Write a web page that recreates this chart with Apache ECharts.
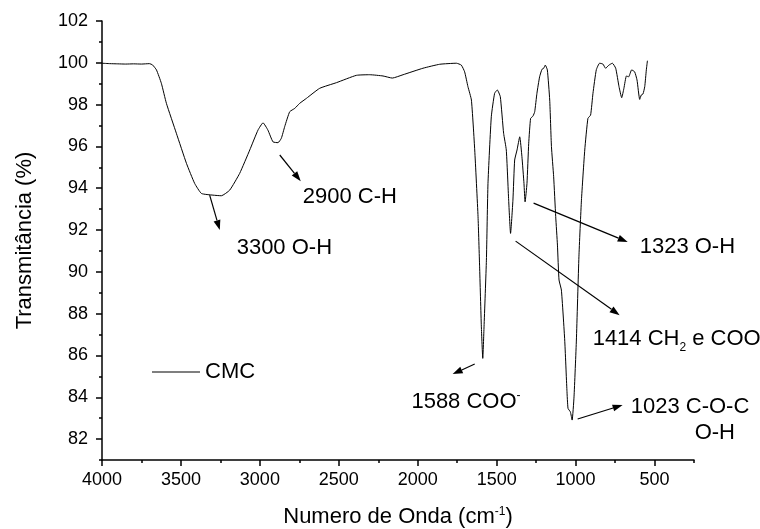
<!DOCTYPE html>
<html><head><meta charset="utf-8">
<script src="https://cdn.jsdelivr.net/npm/echarts@6/dist/echarts.min.js"></script>
<style>html,body{margin:0;padding:0;background:#fff}#c{width:760px;height:529px}</style>
</head><body><div id="c"></div>
<script>
// Wavenumber (cm-1) and transmittance (%)
const wavenumbers = [4000,3950,3900,3850,3800,3750,3700,3680,3655,3624,3592,3529,3465,3413,3370,3297,3244,3191,3128,3064,3012,2980,2949,2917,2885,2864,2843,2811,2779,2748,2705,2621,2515,2389,2304,2220,2161,2093,1967,1861,1755,1724,1703,1682,1660,1639,1618,1608,1597,1588,1580,1565,1555,1534,1513,1496,1477,1456,1439,1424,1412,1397,1386,1371,1354,1340,1327,1320,1308,1297,1285,1270,1259,1245,1228,1213,1202,1192,1179,1164,1153,1139,1126,1115,1105,1090,1069,1055,1048,1033,1022,1010,995,979,963,942,922,905,890,869,848,827,810,789,767,746,725,708,694,678,664,645,626,611,594,584,573,562,552,545];
const transmittance = [99.98,99.96,99.95,99.94,99.95,99.94,99.96,99.90,99.66,99.02,98.06,96.63,95.19,94.23,93.75,93.67,93.64,93.91,94.71,95.83,96.78,97.13,96.78,96.22,96.18,96.39,96.94,97.66,97.82,98.06,98.30,98.78,99.05,99.40,99.43,99.37,99.27,99.43,99.74,99.93,99.98,99.89,99.57,98.86,98.22,95.83,92.64,90.24,87.37,85.86,87.37,90.56,94.23,97.42,98.54,98.70,98.38,96.63,95.83,93.43,91.84,93.43,95.35,95.83,96.46,95.51,94.23,93.35,94.23,96.15,97.34,97.45,97.66,98.54,99.33,99.69,99.74,99.89,99.66,98.22,95.99,94.55,92.64,91.28,89.61,89.13,86.74,84.34,83.47,83.30,82.91,84.02,86.74,90.72,93.43,95.83,97.34,97.50,98.54,99.66,99.98,99.94,99.74,99.89,99.98,99.74,98.86,98.33,98.78,99.37,99.33,99.66,99.57,99.18,98.25,98.46,98.51,98.86,99.66,100.1];

const xTicks = [4000,3500,3000,2500,2000,1500,1000,500];
const xMinorTicks = [3750,3250,2750,2250,1750,1250,750,250];
const yTicks = [82,84,86,88,90,92,94,96,98,100,102];
const yMinorTicks = [81,83,85,87,89,91,93,95,97,99,101];

// Annotation arrows (data coordinates)
const arrowStarts = [[3318,93.67],[2874,95.59],[1266,93.29],[1380,91.47],[1639,85.59],[987,82.96]];
const arrowEnds   = [[3254,92.00],[2741,94.34],[670,91.43],[721,87.93],[1779,85.11],[702,83.63]];
// Annotation labels (left edge, vertical centre, in data coordinates)
const labelTexts = ['3300 O-H','2900 C-H','1323 O-H','1414 CH{sub|2} e COO{sup|-}','1588 COO{sup|-}','1023 C-O-C','O-H'];
const labelAnchors = [[3147,91.14],[2728,93.58],[594,91.19],[892,86.78],[2040,83.77],[651,83.53],[246,82.29]];

const FONT = 'Liberation Sans, Arial, sans-serif';
const chart = echarts.init(document.getElementById('c'));
const axisCommon = {
  min: 250, max: 4000, inverse: true, splitLine:{show:false}
};
chart.setOption({
  animation: false,
  backgroundColor: '#fff',
  grid: {left: 102, right: 66, top: 21, bottom: 69, outerBoundsMode: 'none'},
  legend: {
    left: 152, top: 361, padding: 0,
    icon: 'rect', itemWidth: 48, itemHeight: 1,
    textStyle: {fontSize: 22, fontFamily: FONT, color: '#000'},
    data: ['CMC']
  },
  xAxis: [
    Object.assign({}, axisCommon, {
      type: 'value', position: 'bottom',
      name: 'Numero de Onda (cm{sup|-1})', nameLocation: 'middle', nameGap: 46,
      nameTextStyle: {fontSize: 22, fontFamily: FONT, color: '#000',
        rich: {sup: {fontSize: 12, fontFamily: FONT, color:'#000', verticalAlign: 'top'}}},
      axisLine: {show: true, onZero: false, lineStyle: {color: '#000', width: 1.5}},
      axisTick: {show: true, length: 6, customValues: xTicks, lineStyle: {color:'#000', width: 1.5}},
      axisLabel: {show: true, customValues: xTicks, margin: 11, fontSize: 18, fontFamily: FONT, color: '#000',
        formatter: v => String(v)}
    }),
    Object.assign({}, axisCommon, {
      type: 'value', position: 'bottom',
      axisLine: {show: false, onZero: false},
      axisTick: {show: true, length: 3, customValues: xMinorTicks, lineStyle: {color:'#000', width: 1.5}},
      axisLabel: {show: false}
    })
  ],
  yAxis: [
    {
      type: 'value', min: 81, max: 102, position: 'left',
      name: 'Transmitância (%)', nameLocation: 'middle', nameGap: 66,
      nameTextStyle: {fontSize: 22, fontFamily: FONT, color: '#000'},
      splitLine: {show: false},
      axisLine: {show: true, onZero: false, lineStyle: {color: '#000', width: 1.5}},
      axisTick: {show: true, length: 6, customValues: yTicks, lineStyle: {color:'#000', width: 1.5}},
      axisLabel: {show: true, customValues: yTicks, margin: 14, fontSize: 18, fontFamily: FONT, color: '#000',
        formatter: v => String(v)}
    },
    {
      type: 'value', min: 81, max: 102, position: 'left',
      splitLine: {show: false},
      axisLine: {show: false, onZero: false},
      axisTick: {show: true, length: 3, customValues: yMinorTicks, lineStyle: {color:'#000', width: 1.5}},
      axisLabel: {show: false}
    }
  ],
  series: [{
    name: 'CMC', type: 'line', xAxisIndex: 0, yAxisIndex: 0,
    data: wavenumbers.map((w, i) => [w, transmittance[i]]),
    showSymbol: false, smooth: 0.15,
    lineStyle: {color: '#000', width: 1},
    itemStyle: {color: '#000'}
  }]
});

const rich = {
  sub: {fontSize: 12, fontFamily: FONT, fill: '#000', verticalAlign: 'bottom', lineHeight: 30},
  sup: {fontSize: 12, fontFamily: FONT, fill: '#000', verticalAlign: 'top', lineHeight: 24}
};
const toPx = d => chart.convertToPixel({seriesIndex: 0}, d);
const graphics = [];
arrowStarts.forEach((s, i) => {
  const a = toPx(s), b = toPx(arrowEnds[i]);
  const dx = b[0] - a[0], dy = b[1] - a[1];
  const L = Math.hypot(dx, dy), ux = dx / L, uy = dy / L;
  const head = 10, hw = 3.5;
  const bx = b[0] - ux * head, by = b[1] - uy * head;
  graphics.push({type: 'line', silent: true,
    shape: {x1: a[0], y1: a[1], x2: bx, y2: by},
    style: {stroke: '#000', lineWidth: 1.2}});
  graphics.push({type: 'polygon', silent: true,
    shape: {points: [[b[0], b[1]], [bx - uy * hw, by + ux * hw], [bx + uy * hw, by - ux * hw]]},
    style: {fill: '#000'}});
});
labelTexts.forEach((t, i) => {
  const p = toPx(labelAnchors[i]);
  graphics.push({
    type: 'text', x: p[0], y: p[1], silent: true,
    style: {text: t, rich: rich, fill: '#000', font: '22px ' + FONT,
      align: 'left', verticalAlign: 'middle'}
  });
});
chart.setOption({graphic: graphics});
</script></body></html>
